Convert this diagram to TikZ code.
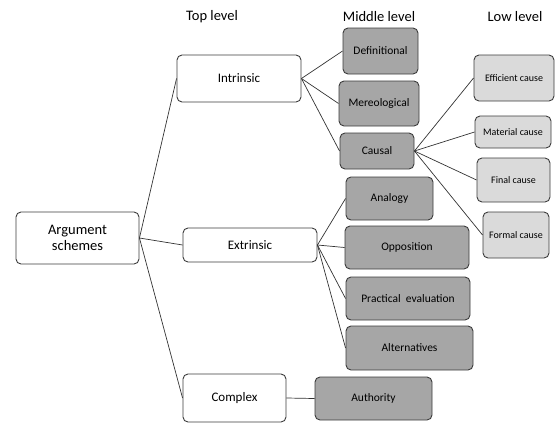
\documentclass[tikz,border=0pt]{standalone}
\usepackage{fontspec}
\setmainfont{Carlito}
\usepackage{tikz}
\usetikzlibrary{arrows.meta,positioning,calc}
\definecolor{boxdark}{RGB}{166,166,166}
\definecolor{boxlight}{RGB}{218,218,218}
\definecolor{boxline}{RGB}{60,60,60}

\begin{document}
\begin{tikzpicture}[
  x=1pt, y=-1pt,
  box/.style={draw=boxline, line width=0.9pt, rounded corners=5pt, inner sep=0pt, align=center},
  toplev/.style={box, fill=white, font=\fontsize{13}{15}\selectfont},
  midlev/.style={box, fill=boxdark, font=\fontsize{11.5}{13}\selectfont},
  lowlev/.style={box, fill=boxlight, font=\fontsize{10}{12}\selectfont},
  head/.style={font=\fontsize{14.5}{16}\selectfont},
  link/.style={line width=0.7pt, draw=black!80}
]
\useasboundingbox (0,0) rectangle (555,424);

% column headers
\node[head] (htop) at (212,17) {Top level};
\node[head] (hmid) at (379,17) {Middle level};
\node[head] (hlow) at (515,17) {Low level};

% root
\node[toplev, minimum width=123pt, minimum height=52pt, font=\fontsize{14.5}{16}\selectfont] (args) at (77.5,238) {Argument\\schemes};

% top level
\node[toplev, minimum width=124pt, minimum height=47pt] (intr) at (239,78.5) {Intrinsic};
\node[toplev, minimum width=134pt, minimum height=34pt] (extr) at (250,245) {Extrinsic};
\node[toplev, minimum width=103pt, minimum height=48pt] (cmplx) at (234.5,398) {Complex};

% middle level
\node[midlev, minimum width=75pt, minimum height=46pt] (defn) at (380.5,51) {Definitional};
\node[midlev, minimum width=80pt, minimum height=45pt] (mereo) at (379,103.5) {Mereological};
\node[midlev, minimum width=74pt, minimum height=36pt] (causal) at (377,151) {Causal};
\node[midlev, minimum width=87pt, minimum height=43pt] (analogy) at (389.5,198.5) {Analogy};
\node[midlev, minimum width=124pt, minimum height=43pt] (oppos) at (407,247.5) {Opposition};
\node[midlev, minimum width=124pt, minimum height=43pt] (pract) at (408,298.5) {Practical\ \ evaluation};
\node[midlev, minimum width=127pt, minimum height=44pt] (altern) at (409.5,348) {Alternatives};
\node[midlev, minimum width=117pt, minimum height=43pt] (auth) at (373.5,398.5) {Authority};

% low level
\node[lowlev, minimum width=80pt, minimum height=46pt] (effic) at (514,78) {Efficient cause};
\node[lowlev, minimum width=76pt, minimum height=32pt] (mater) at (513,132) {Material cause};
\node[lowlev, minimum width=73pt, minimum height=44pt] (final) at (513.5,180) {Final cause};
\node[lowlev, minimum width=66pt, minimum height=46pt] (formal) at (516,235) {Formal cause};

% connectors
\foreach \t in {intr,extr,cmplx} \draw[link] (args.east) -- (\t.west);
\foreach \t in {defn,mereo,causal} \draw[link] (intr.east) -- (\t.west);
\foreach \t in {effic,mater,final,formal} \draw[link] (causal.east) -- (\t.west);
\foreach \t in {analogy,oppos,pract,altern} \draw[link] (extr.east) -- (\t.west);
\draw[link] (cmplx.east) -- (auth.west);
\end{tikzpicture}
\end{document}
